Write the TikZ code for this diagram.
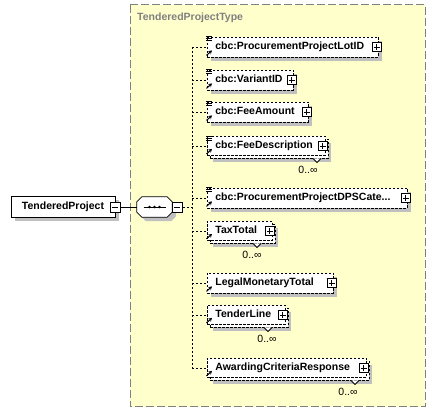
\documentclass[tikz,border=0pt]{standalone}
\usepackage{fontspec}
\setmainfont{Liberation Sans}
\usepackage{tikz}
\usepackage{xcolor}
\usetikzlibrary{arrows.meta, positioning, shadows}

\definecolor{typefill}{RGB}{255,255,204}
\definecolor{typeline}{RGB}{128,128,128}
\definecolor{shadowgray}{RGB}{192,192,192}

\begin{document}
\begin{tikzpicture}[x=1pt, y=1pt,
    typebox/.style={draw=typeline, fill=typefill, line width=1pt, dash pattern=on 8pt off 3pt},
    typetitle/.style={text=typeline, font=\bfseries\fontsize{10.5}{12}\selectfont, inner sep=0pt},
    boxshadow/.style={drop shadow={shadow xshift=4pt, shadow yshift=-4pt, fill=shadowgray, opacity=1}},
    elembase/.style={draw, dash pattern=on 2.5pt off 1.5pt, line width=0.8pt, fill=white,
        font=\bfseries\fontsize{10.5}{12}\selectfont, anchor=west, align=left,
        inner xsep=8pt, inner ysep=0pt, text height=7.5pt, text depth=2pt},
    elem/.style={elembase, minimum height=20pt, boxshadow},
    elemstack/.style={elembase, minimum height=19pt,
        drop shadow={shadow xshift=6pt, shadow yshift=-7pt, fill=shadowgray, opacity=1},
        copy shadow={shadow xshift=3pt, shadow yshift=-3pt, draw=black, fill=white,
            dash pattern=on 2.5pt off 1.5pt, line width=0.8pt}},
    rootelem/.style={draw, line width=0.8pt, fill=white, minimum width=104pt, minimum height=21pt,
        inner sep=0pt, font=\bfseries\fontsize{10.5}{12}\selectfont, boxshadow},
    seqbox/.style={minimum width=35pt, minimum height=20pt, inner sep=0pt},
    seqline/.style={draw, line width=0.8pt, fill=white, boxshadow},
    minusbox/.style={draw, fill=white, line width=0.8pt, minimum size=10pt, inner sep=0pt,
        path picture={\draw[line width=0.8pt] ([xshift=2pt]path picture bounding box.west) -- ([xshift=-2pt]path picture bounding box.east);}},
    plusbox/.style={draw, fill=white, line width=0.8pt, minimum size=9pt, inner sep=0pt,
        path picture={\draw[line width=0.8pt] ([xshift=1.8pt]path picture bounding box.west) -- ([xshift=-1.8pt]path picture bounding box.east)
            ([yshift=-1.8pt]path picture bounding box.north) -- ([yshift=1.8pt]path picture bounding box.south);}},
    conn/.style={line width=0.8pt, dash pattern=on 2pt off 2pt},
    refarrow/.style={line width=1pt, -{Stealth[length=3.5pt, width=4pt]}},
    listicon/.style={line width=0.8pt},
    notchline/.style={line width=0.8pt, fill=white},
    mult/.style={font=\fontsize{10.5}{12}\selectfont, inner sep=0pt}
    ]
    \useasboundingbox (0,0) rectangle (437,-414);

    % Complex type frame
    \draw[typebox] (130,-5) rectangle (425,-407);
    \node[typetitle, anchor=west] (typename) at (137,-18) {TenderedProjectType};

    % Root element and sequence
    \node[rootelem] (root) at (63,-207) {TenderedProject};
    \node[minusbox] (root-minus) at (root.east) {};
    \node[seqbox] (seq) at (154.5,-207) {};
    \draw[seqline] ([xshift=5pt]seq.north west) -- ([xshift=-5pt]seq.north east)
        -- ([yshift=-5pt]seq.north east) -- ([yshift=5pt]seq.south east)
        -- ([xshift=-5pt]seq.south east) -- ([xshift=5pt]seq.south west)
        -- ([yshift=5pt]seq.south west) -- ([yshift=-5pt]seq.north west) -- cycle;
    \draw[line width=0.8pt] ([xshift=-11pt]seq.center) -- ([xshift=11pt]seq.center);
    \foreach \d in {-5,0,5} \fill ([xshift=\d pt]seq.center) circle (1.4pt);
    \node[minusbox] (seq-minus) at ([xshift=5pt]seq.east) {};
    \coordinate (spinetop) at (192,-47);
    \coordinate (spinebot) at (192,-368);

    \draw[line width=0.8pt] (root-minus) -- (seq);
    \draw[conn] (seq-minus.east) -- (seq-minus.east -| spinetop);
    \draw[conn] (spinetop) -- (spinebot);

    % Single children
    \foreach \n/\y/\w/\txt in {lotid/47/155/cbc:ProcurementProjectLotID,
            variantid/80/70/cbc:VariantID,
            feeamount/112/85/cbc:FeeAmount,
            dpscat/198/184/{cbc:ProcurementProjectDPSCate...},
            legaltotal/283/110/LegalMonetaryTotal}{
        \node[elem, text width=\w pt] (\n) at (207,-\y) {\txt};
        \node[plusbox] (\n-plus) at ([xshift=-2pt]\n.east) {};
        \draw[conn] (\n.west -| spinetop) -- (\n.west);
    }

    % Repeated children (0..unbounded)
    \foreach \n/\y/\w/\nx/\mx/\txt in {feedesc/146/102/317/308/cbc:FeeDescription,
            taxtotal/231/49/257/252/TaxTotal,
            tenderline/315/62/268/267/TenderLine,
            awarding/368/143/355/348/AwardingCriteriaResponse}{
        \node[elemstack, text width=\w pt] (\n) at (207,-\y) {\txt};
        \node[plusbox] (\n-plus) at ([xshift=-3pt]\n.east) {};
        \draw[conn] (\n.west -| spinetop) -- (\n.west);
        \draw[notchline] (\nx-4,-\y-12.5) -- (\nx,-\y-16.5) -- (\nx+4,-\y-12.5);
        \node[mult] (\n-mult) at (\mx,-\y-24) {0..∞};
    }

    % Icons
    \foreach \n in {lotid, variantid, feeamount, feedesc, dpscat}{
        \draw[listicon] ([xshift=-1pt]\n.north west) -- ++(6,0)
            ([shift={(-1pt,-2pt)}]\n.north west) -- ++(6,0)
            ([shift={(-1pt,-4pt)}]\n.north west) -- ++(6,0);
    }
    \foreach \n in {lotid, variantid, feeamount, feedesc, dpscat, taxtotal, legaltotal, tenderline, awarding}{
        \draw[refarrow] ([shift={(-0.5pt,2pt)}]\n.south west) -- ++(5.5,5);
    }

\end{tikzpicture}
\end{document}
